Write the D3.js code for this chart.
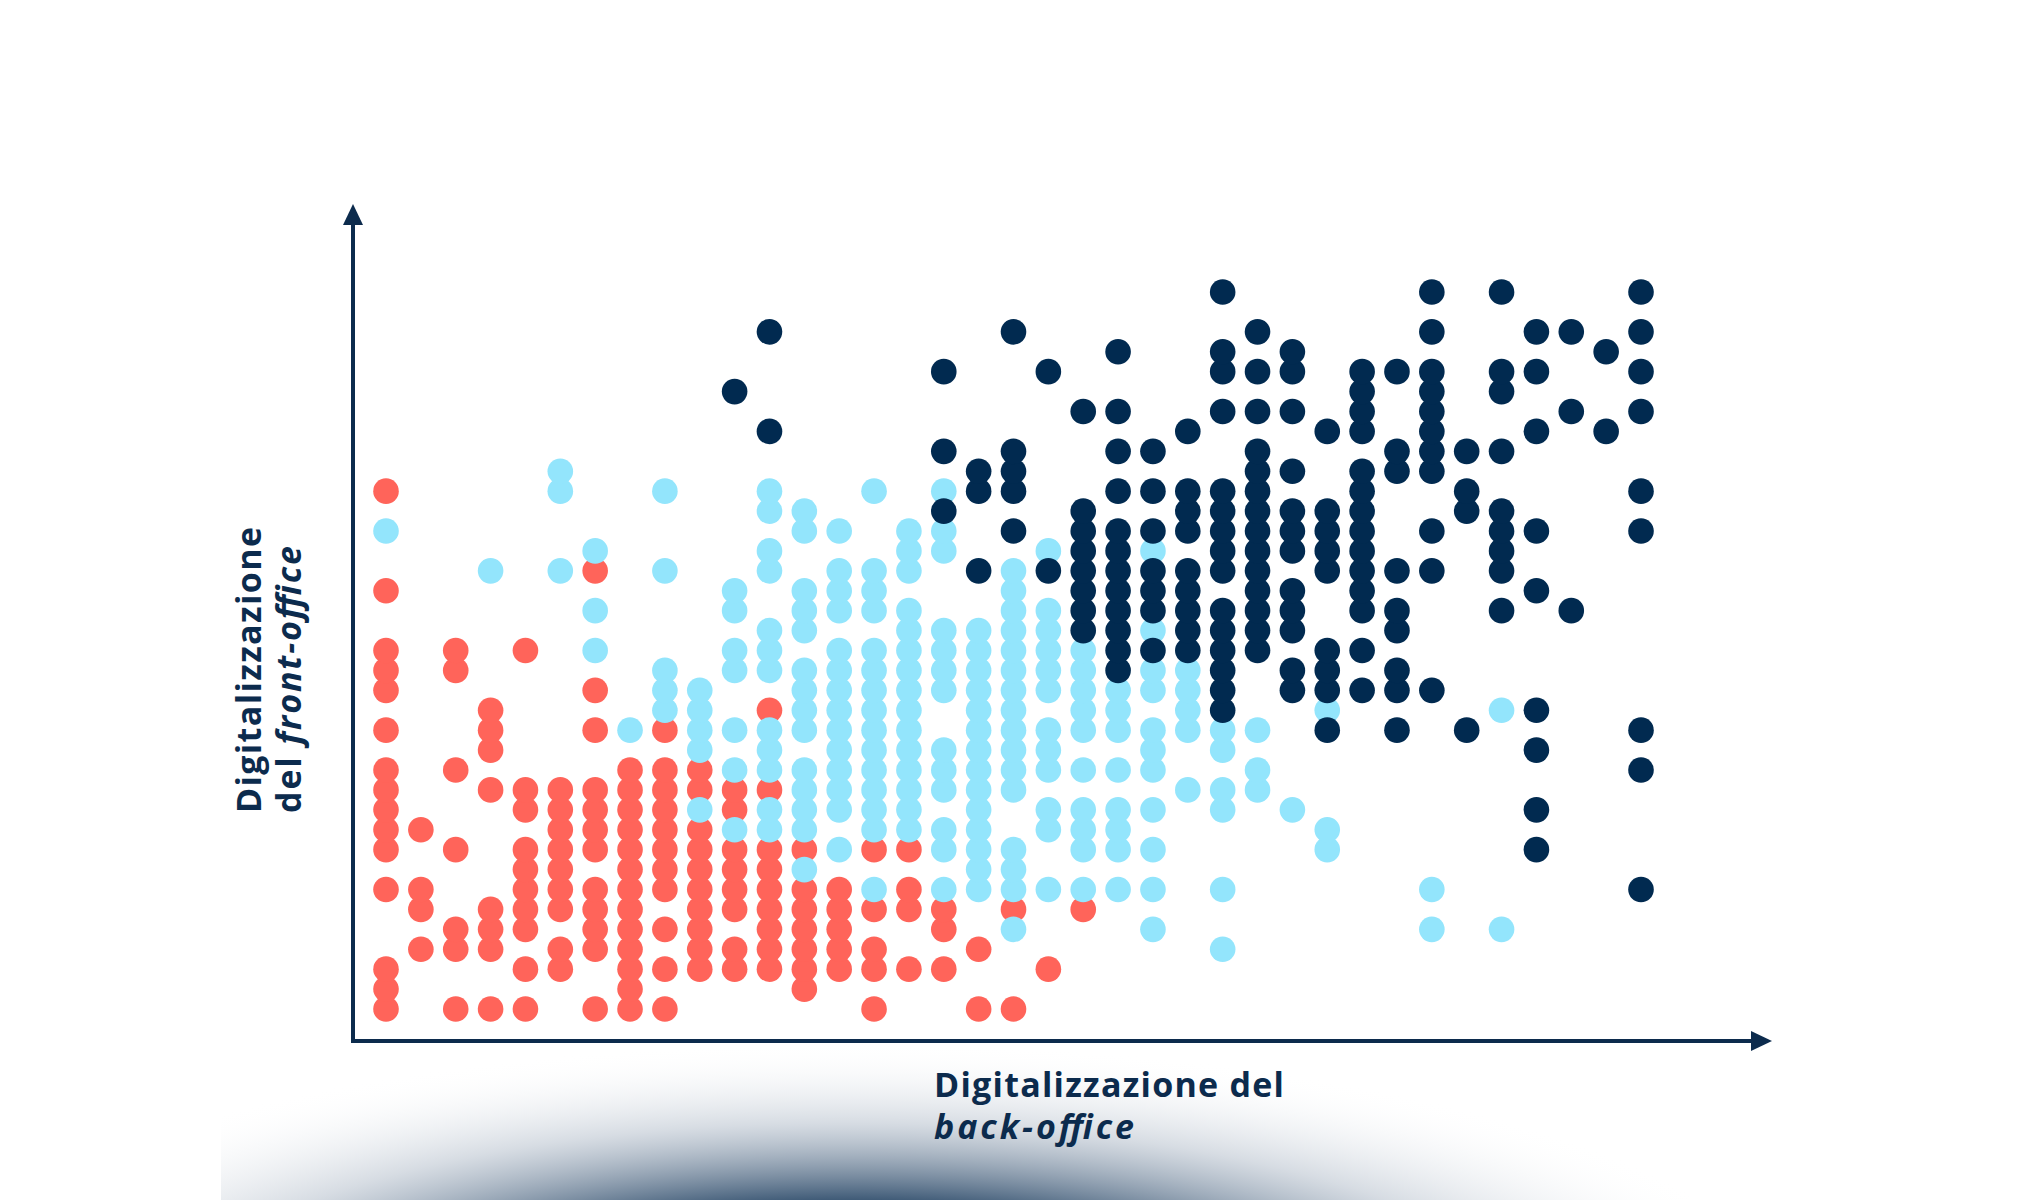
<!DOCTYPE html>
<html>
<head>
<meta charset="utf-8">
<script src="https://cdn.jsdelivr.net/npm/d3@7"></script>
<style>
  body { margin: 0; background: #ffffff; }
</style>
</head>
<body>
<div class="chart"></div>
<script>
// rows (0 = bottom) of the dots in every column (index = column, 0 = left)
var redRows = [
  [0,1,2,6,8,9,10,11,12,14,16,17,18,21,26],
  [3,5,6,9],
  [0,3,4,8,12,17,18],
  [0,3,4,5,11,13,14,15],
  [0,2,4,5,6,7,8,10,11,18],
  [2,3,5,6,7,8,9,10,11],
  [0,3,4,5,6,8,9,10,11,14,16,22],
  [0,1,2,3,4,5,6,7,8,9,10,11,12],
  [0,2,4,6,7,8,9,10,11,12,14],
  [2,3,4,5,6,7,8,9,11,12],
  [2,3,5,6,7,8,10,11],
  [2,3,4,5,6,7,8,11,15],
  [1,2,3,4,5,6,8],
  [2,3,4,5,6],
  [0,2,3,5,8],
  [2,5,6,8],
  [2,4,5],
  [0,3],
  [0,5],
  [2],
  [5]
]

var lightRows = [
  [24], [], [], [22], [],
  [22,26,27],
  [18,20,23],
  [14],
  [15,16,17,22,26],
  [10,13,14,15,16],
  [9,12,14,17,18,20,21],
  [9,10,12,13,14,17,18,19,22,23,25,26],
  [7,9,10,11,12,14,15,16,17,19,20,21,24,25],
  [8,10,11,12,13,14,15,16,17,18,20,21,22,24],
  [6,9,10,11,12,13,14,15,16,17,18,20,21,22,26],
  [9,10,11,12,13,14,15,16,17,18,19,20,22,23,24],
  [6,8,9,11,12,13,16,17,18,19,23,24,26],
  [6,7,8,9,10,11,12,13,14,15,16,17,18,19],
  [4,6,7,8,11,12,13,14,15,16,17,18,19,20,21,22],
  [6,9,10,12,13,14,16,17,18,19,20,23],
  [6,8,9,10,12,14,15,16,17,18],
  [6,8,9,10,12,14,15,16],
  [4,6,8,10,12,13,14,16,17,19,23],
  [11,14,15,16,17],
  [3,6,10,11,13,14],
  [11,12,14],
  [10],
  [8,9,15],
  [], [],
  [4,6],
  [],
  [4,15]
]

var darkRows = [
  [], [], [], [], [], [], [], [], [], [],
  [31],
  [29,34],
  [], [], [], [],
  [25,28,32],
  [22,26,27],
  [24,26,27,28,34],
  [22,32],
  [19,20,21,22,23,24,25,30],
  [17,18,19,20,21,22,23,24,26,28,30,33],
  [18,20,21,22,24,26,28],
  [18,19,20,21,22,24,25,26,29],
  [15,16,17,18,19,20,22,23,24,25,26,30,32,33,36],
  [18,19,20,21,22,23,24,25,26,27,28,30,32,34],
  [16,17,19,20,21,23,24,25,27,30,32,33],
  [14,16,17,18,22,23,24,25,29],
  [16,18,20,21,22,23,24,25,26,27,29,30,31,32],
  [14,16,17,19,20,22,27,28,32],
  [16,22,24,27,28,29,30,31,32,34,36],
  [14,25,26,28],
  [20,22,23,24,25,28,31,32,36],
  [8,10,13,15,21,24,29,32,34],
  [20,30,34],
  [29,33],
  [6,12,14,24,26,30,32,34,36]
]

var xDomain = [0, 36]
var yDomain = [0, 36]

var navy = "#0c2b4d"
var labelFont = "'Open Sans', sans-serif"

var svg = d3.select(".chart")
    .append("svg")
    .attr("width", 2040)
    .attr("height", 1200)

var defs = svg.append("defs")

// dark glow at the bottom
var grad = defs.append("radialGradient")
    .attr("id", "glow")
    .attr("gradientUnits", "userSpaceOnUse")
    .attr("cx", 850)
    .attr("cy", 1330)
    .attr("r", 960)
    .attr("gradientTransform", "translate(850,1330) scale(1,0.3) translate(-850,-1330)")
grad.append("stop").attr("offset", 0).attr("stop-color", "#163659").attr("stop-opacity", 1)
grad.append("stop").attr("offset", 0.45).attr("stop-color", "#34516f").attr("stop-opacity", 0.95)
grad.append("stop").attr("offset", 0.72).attr("stop-color", "#9aa8b9").attr("stop-opacity", 0.4)
grad.append("stop").attr("offset", 1).attr("stop-color", "#ffffff").attr("stop-opacity", 0)

svg.append("rect")
    .attr("x", 221)
    .attr("y", 990)
    .attr("width", 1600)
    .attr("height", 210)
    .style("fill", "url(#glow)")

var x = d3.scaleLinear().domain(xDomain).range([386, 1641])
var y = d3.scaleLinear().domain(yDomain).range([1009, 292])

function toPoints(rows, group) {
  var pts = []
  rows.forEach(function (col, i) {
    col.forEach(function (r) {
      pts.push({ col: i, row: r, group: group })
    })
  })
  return pts
}

var groups = [
  { name: "red", rows: redRows, color: "#ff645a" },
  { name: "light", rows: lightRows, color: "#93e5fc" },
  { name: "dark", rows: darkRows, color: "#012a50" }
]

groups.forEach(function (g) {
  svg.append("g")
      .attr("class", "dots-" + g.name)
    .selectAll("circle")
    .data(toPoints(g.rows, g.name))
    .join("circle")
      .attr("cx", function (d) { return x(d.col) })
      .attr("cy", function (d) { return y(d.row) })
      .attr("r", 12.8)
      .style("fill", g.color)
})

// axes with arrow heads
var x0 = 353, yBase = 1041, xEnd = 1772, yTop = 204

svg.append("line")
    .attr("x1", x0)
    .attr("y1", yBase)
    .attr("x2", xEnd - 16)
    .attr("y2", yBase)
    .style("stroke", navy)
    .style("stroke-width", 4)

svg.append("line")
    .attr("x1", x0)
    .attr("y1", yBase + 2)
    .attr("x2", x0)
    .attr("y2", yTop + 16)
    .style("stroke", navy)
    .style("stroke-width", 4)

svg.append("path")
    .attr("d", "M" + xEnd + "," + yBase + " L" + (xEnd - 21) + "," + (yBase - 10) + " L" + (xEnd - 21) + "," + (yBase + 10) + " Z")
    .style("fill", navy)

svg.append("path")
    .attr("d", "M" + x0 + "," + yTop + " L" + (x0 - 10) + "," + (yTop + 21) + " L" + (x0 + 10) + "," + (yTop + 21) + " Z")
    .style("fill", navy)

// x label
svg.append("text")
    .attr("x", 934)
    .attr("y", 1097)
    .attr("textLength", 350)
    .attr("lengthAdjust", "spacing")
    .text("Digitalizzazione del")
    .attr("font-family", labelFont)
    .attr("font-weight", "bold")
    .style("font-size", "34px")
    .attr("fill", navy)

svg.append("text")
    .attr("x", 934)
    .attr("y", 1139)
    .attr("textLength", 200)
    .attr("lengthAdjust", "spacing")
    .text("back-office")
    .attr("font-family", labelFont)
    .attr("font-weight", "bold")
    .attr("font-style", "italic")
    .style("font-size", "34px")
    .attr("fill", navy)

// y label
svg.append("text")
    .attr("transform", "translate(261,813) rotate(-90)")
    .attr("textLength", 286)
    .attr("lengthAdjust", "spacing")
    .text("Digitalizzazione")
    .attr("font-family", labelFont)
    .attr("font-weight", "bold")
    .style("font-size", "34px")
    .attr("fill", navy)

var yl2 = svg.append("text")
    .attr("transform", "translate(301,813) rotate(-90)")
    .attr("textLength", 267)
    .attr("lengthAdjust", "spacing")
    .attr("font-family", labelFont)
    .attr("font-weight", "bold")
    .style("font-size", "34px")
    .attr("fill", navy)
yl2.append("tspan").text("del ")
yl2.append("tspan").attr("font-style", "italic").text("front-office")
</script>
</body>
</html>
